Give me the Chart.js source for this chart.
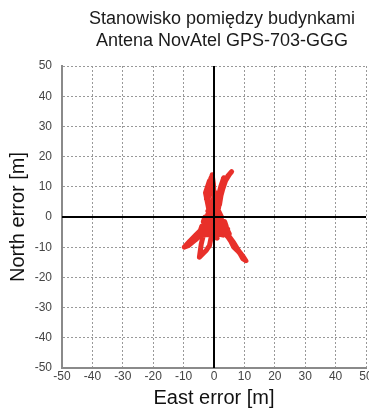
<!DOCTYPE html>
<html>
<head>
<meta charset="utf-8">
<script src="https://cdn.jsdelivr.net/npm/chart.js@4/dist/chart.umd.min.js"></script>
<style>
html,body{margin:0;padding:0;background:#fff;overflow:hidden;}
#wrap{width:369px;height:410px;position:relative;}
</style>
</head>
<body>
<div id="wrap"><canvas id="c" width="369" height="410"></canvas></div>
<script>
const titleLines = ["Stanowisko pomiędzy budynkami", "Antena NovAtel GPS-703-GGG"];
const xTitle = "East error [m]";
const yTitle = "North error [m]";
const tickValues = [-50, -40, -30, -20, -10, 0, 10, 20, 30, 40, 50];

const eastError = [0,-1,-2,-1.5,-1,-0.6,-0.2,0,-0.5,-2.5,-2,-1,-0.3,0.3,
  1,2,3,4.5,5.8,5,3.8,2.8,2,1.5,0.5,
  -2,-4,-6,-8,-9.8,-8.5,-6,-4,-2.5,
  -3.5,-4.2,-4.8,-3.5,-2.5,-1.5,-1,-0.5,0,
  1.5,3,4,5,6.5,8,9.5,10.5,9.5,8.5,7.8,6.5,5.5,4.5,3,1.5,
  0,-2,-3.5,-3,-1.5,1,3,4.5,3,1,-1,-3,-2,-0.5,1,2.5,1,-1,-2.5,0,2,0,
  -2,1.5,2.5,-3,-3.5,3.5,4,-4,-4.5,4.5,5,-4,-2,3,2,-2,0,1,-1,-1.8,-2.8,-1.5,1.2,2.2,3.2,2.6,1.8];
const northError = [0,2,5,9,12,14,11,7,4,6,9,13,9,3,
  5,8,11,13.5,15,14,12,9,6,3,0,
  -2,-4,-6,-8,-10,-9.5,-7.5,-5.5,-3,
  -6,-9,-13.3,-12,-11,-9.5,-7,-4,-1,
  -2.5,-4,-5.5,-6.5,-8.5,-11,-13,-14.5,-13.8,-12,-11.2,-10,-8,-6.5,-5,-3,
  -3,-4,-3,-1,0,-1,-2.5,-4,-3.5,-2,-1.5,-2.5,1,3,1,-1,-4,-5.5,-5,-2,0,1,
  2,2,0,0,-1.5,-1.5,-3,-3,-4.5,-4.5,-5.5,-6,-5,-6,-4,-3,-5.5,-7,-6.5,3,8,12,6,10,13,9,4];

const track = eastError.map((x, i) => ({x: x, y: northError[i]}));
const lo = tickValues[0], hi = tickValues[tickValues.length - 1];

const titlePlugin = {
  id: 'twoLineTitle',
  afterDraw(chart) {
    const ctx = chart.ctx;
    ctx.save();
    ctx.fillStyle = '#1a1a1a';
    ctx.font = '18px "Liberation Sans", Arial, sans-serif';
    ctx.textAlign = 'center';
    ctx.textBaseline = 'middle';
    ctx.fillText(titleLines[0], 222, 19);
    ctx.fillText(titleLines[1], 222, 41);
    ctx.restore();
  }
};

new Chart(document.getElementById('c'), {
  type: 'scatter',
  data: {
    datasets: [
      {data: track, showLine: true, borderColor: '#e8302a', backgroundColor: '#e8302a',
       borderWidth: 5, pointRadius: 0, borderJoinStyle: 'round', borderCapStyle: 'round', order: 2},
      {data: [{x: 0, y: lo}, {x: 0, y: hi}], showLine: true, borderColor: '#000', borderWidth: 2, pointRadius: 0, order: 1},
      {data: [{x: lo, y: 0}, {x: hi, y: 0}], showLine: true, borderColor: '#000', borderWidth: 2, pointRadius: 0, order: 1}
    ]
  },
  options: {
    responsive: false,
    animation: false,
    layout: {padding: {top: 66, left: 0, right: 3, bottom: 0}},
    plugins: {legend: {display: false}, tooltip: {enabled: false}, title: {display: false}},
    scales: {
      x: {
        type: 'linear', min: lo, max: hi,
        afterBuildTicks(s) { s.ticks = tickValues.map(v => ({value: v})); },
        ticks: {color: '#444', padding: 1, maxRotation: 0, autoSkip: false,
                font: {family: '"Liberation Sans", Arial, sans-serif', size: 12}},
        grid: {color: '#999', lineWidth: 1, drawTicks: false},
        border: {color: '#8a8a8a', width: 2, dash: [2, 2]},
        title: {display: true, text: xTitle, color: '#111', padding: {top: 2, bottom: 0},
                font: {family: '"Liberation Sans", Arial, sans-serif', size: 20}},
        afterFit(s) { s.height = 42; s.paddingLeft = 0; s.paddingRight = 0; }
      },
      y: {
        type: 'linear', min: lo, max: hi,
        afterBuildTicks(s) { s.ticks = tickValues.map(v => ({value: v})); },
        ticks: {color: '#444', padding: 10, autoSkip: false,
                font: {family: '"Liberation Sans", Arial, sans-serif', size: 12}},
        grid: {color: '#999', lineWidth: 1, drawTicks: false},
        border: {color: '#8a8a8a', width: 2, dash: [2, 2]},
        title: {display: true, text: yTitle, color: '#111', padding: {top: 6, bottom: 0},
                font: {family: '"Liberation Sans", Arial, sans-serif', size: 20}},
        afterFit(s) { s.width = 62; s.paddingTop = 0; s.paddingBottom = 0; }
      }
    }
  },
  plugins: [titlePlugin]
});
</script>
</body>
</html>
